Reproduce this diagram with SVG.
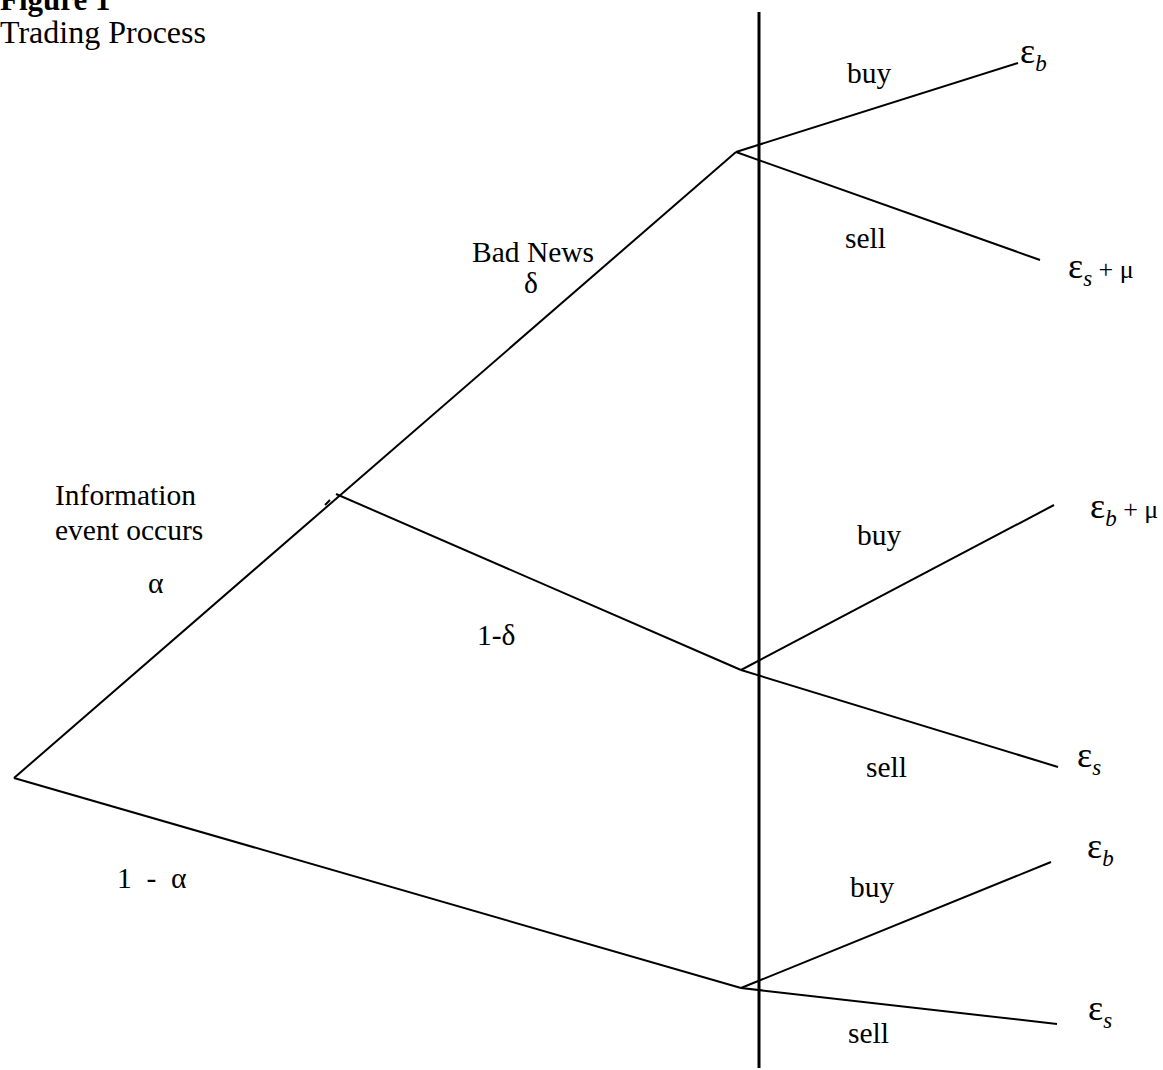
<svg xmlns="http://www.w3.org/2000/svg" width="1163" height="1070" viewBox="0 0 1163 1070">
<style>
text{font-family:"Liberation Serif","Times New Roman",serif;font-size:29.5px;fill:#000}
.title{font-weight:bold;font-size:31px}
.big{font-size:32px}
.eps{font-size:36px}
.sub{font-style:italic;font-size:23px}
.ln{stroke:#000;stroke-width:2;fill:none}
.axis{stroke:#000;stroke-width:3;fill:none}
</style>
<rect width="1163" height="1070" fill="#fff"/>
<g id="title">
<text class="title" x="0" y="10">Figure 1</text>
<text class="big" x="0" y="43">Trading Process</text>
</g>
<g id="connectors">
<line class="axis" x1="759" y1="12" x2="759" y2="1068"/>
<polyline class="ln" points="14,778 736,152"/>
<line class="ln" x1="325" y1="505" x2="330" y2="500"/>
<polyline class="ln" points="336,494 741,670"/>
<polyline class="ln" points="14,778 741,988"/>
<polyline class="ln" points="736,152 1018,63"/>
<polyline class="ln" points="736,152 1040,260"/>
<polyline class="ln" points="741,670 1054,505"/>
<polyline class="ln" points="741,670 1058,767"/>
<polyline class="ln" points="741,988 1051,862"/>
<polyline class="ln" points="741,988 1057,1024"/>
</g>
<g id="root-labels">
<text x="55" y="505">Information</text>
<text x="55" y="540">event occurs</text>
<text x="148" y="593">α</text>
<text x="117" y="888" xml:space="preserve">1  -  α</text>
</g>
<g id="news-labels">
<text x="472" y="262">Bad News</text>
<text x="531" y="293" text-anchor="middle">δ</text>
<text x="477" y="645">1-δ</text>
</g>
<g id="trade-labels">
<text x="847" y="83">buy</text>
<text x="845" y="248">sell</text>
<text x="857" y="545">buy</text>
<text x="866" y="777">sell</text>
<text x="850" y="897">buy</text>
<text x="848" y="1043">sell</text>
</g>
<g id="outcomes">
<text x="1020" y="63"><tspan class="eps">ε</tspan><tspan class="sub" dy="8">b</tspan></text>
<text x="1068" y="278"><tspan class="eps">ε</tspan><tspan class="sub" dy="8">s</tspan><tspan dy="-8" font-size="26"> + μ</tspan></text>
<text x="1090" y="518"><tspan class="eps">ε</tspan><tspan class="sub" dy="8">b</tspan><tspan dy="-8" font-size="26"> + μ</tspan></text>
<text x="1077" y="767"><tspan class="eps">ε</tspan><tspan class="sub" dy="8">s</tspan></text>
<text x="1087" y="858"><tspan class="eps">ε</tspan><tspan class="sub" dy="8">b</tspan></text>
<text x="1088" y="1020"><tspan class="eps">ε</tspan><tspan class="sub" dy="8">s</tspan></text>
</g>
</svg>
